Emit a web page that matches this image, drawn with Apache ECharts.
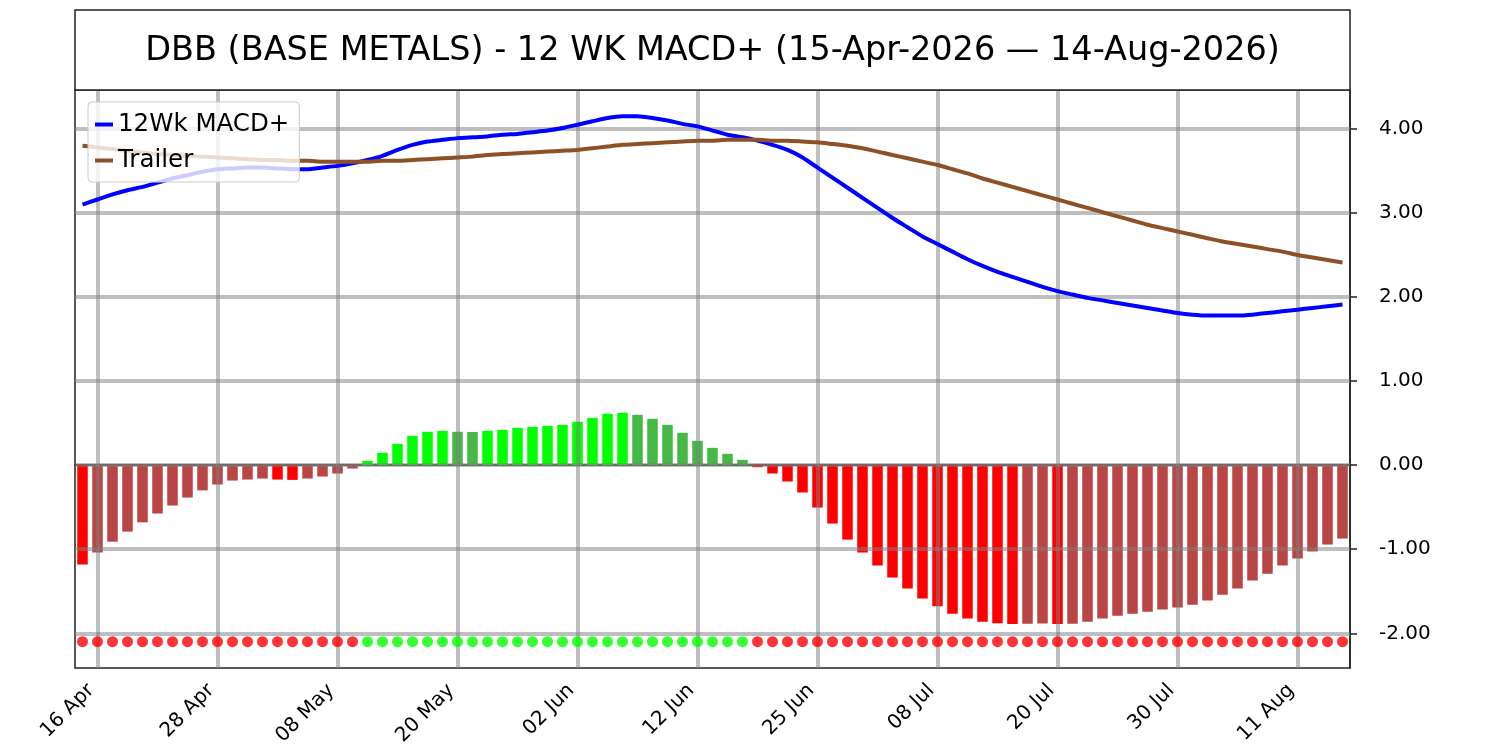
<!DOCTYPE html>
<html>
<head>
<meta charset="utf-8">
<title>DBB 12 WK MACD+</title>
<script src="https://cdn.jsdelivr.net/npm/echarts@6/dist/echarts.min.js"></script>
<style>
  html, body { margin: 0; padding: 0; background: #fff; }
  #main { width: 1500px; height: 750px; }
</style>
</head>
<body>
<div id="main"></div>
<script>
// trading days shown on the x axis
var DATES = [
  '15 Apr','16 Apr','17 Apr','20 Apr','21 Apr','22 Apr','23 Apr','24 Apr','27 Apr','28 Apr','29 Apr','30 Apr',
  '01 May','04 May','05 May','06 May','07 May','08 May','11 May','12 May','13 May','14 May','15 May',
  '18 May','19 May','20 May','21 May','22 May','26 May','27 May','28 May','29 May',
  '01 Jun','02 Jun','03 Jun','04 Jun','05 Jun','08 Jun','09 Jun','10 Jun','11 Jun','12 Jun',
  '15 Jun','16 Jun','17 Jun','18 Jun','22 Jun','23 Jun','24 Jun','25 Jun','26 Jun','29 Jun','30 Jun',
  '01 Jul','02 Jul','06 Jul','07 Jul','08 Jul','09 Jul','10 Jul','13 Jul','14 Jul','15 Jul','16 Jul','17 Jul',
  '20 Jul','21 Jul','22 Jul','23 Jul','24 Jul','27 Jul','28 Jul','29 Jul','30 Jul','31 Jul',
  '03 Aug','04 Aug','05 Aug','06 Aug','07 Aug','10 Aug','11 Aug','12 Aug','13 Aug','14 Aug'
];

var TICK_LABELS = ['16 Apr','28 Apr','08 May','20 May','02 Jun','12 Jun','25 Jun','08 Jul','20 Jul','30 Jul','11 Aug'];
var Y_TICKS = [-2, -1, 0, 1, 2, 3, 4];

var MACD_LINE = [
  3.10,3.16,3.22,3.27,3.31,3.36,3.41,3.45,3.49,3.52,
  3.53,3.54,3.54,3.53,3.52,3.52,3.54,3.56,3.59,3.63,
  3.68,3.75,3.81,3.85,3.87,3.89,3.90,3.91,3.93,3.94,
  3.96,3.98,4.01,4.05,4.09,4.13,4.15,4.15,4.13,4.10,
  4.06,4.03,3.98,3.93,3.90,3.86,3.81,3.75,3.66,3.54,
  3.42,3.30,3.18,3.06,2.94,2.83,2.72,2.63,2.54,2.45,
  2.37,2.30,2.24,2.18,2.12,2.07,2.03,1.99,1.96,1.93,
  1.90,1.87,1.84,1.81,1.79,1.78,1.78,1.78,1.79,1.81,
  1.83,1.85,1.87,1.89,1.91
];

var TRAILER = [
  3.80,3.78,3.76,3.74,3.72,3.70,3.69,3.68,3.67,3.66,
  3.65,3.64,3.63,3.63,3.62,3.62,3.61,3.61,3.61,3.61,
  3.62,3.62,3.63,3.64,3.65,3.66,3.67,3.69,3.70,3.71,
  3.72,3.73,3.74,3.75,3.77,3.79,3.81,3.82,3.83,3.84,
  3.85,3.86,3.86,3.87,3.87,3.87,3.86,3.86,3.85,3.84,
  3.82,3.80,3.77,3.73,3.69,3.65,3.61,3.57,3.52,3.47,
  3.41,3.36,3.31,3.26,3.21,3.16,3.11,3.06,3.01,2.96,
  2.91,2.86,2.82,2.78,2.74,2.70,2.66,2.63,2.60,2.57,
  2.54,2.50,2.47,2.44,2.41
];

var HISTOGRAM = [
  -1.18,-1.04,-0.91,-0.79,-0.68,-0.575,-0.48,-0.385,-0.30,-0.23,
  -0.183,-0.171,-0.159,-0.171,-0.175,-0.159,-0.135,-0.099,-0.04,0.052,
  0.147,0.254,0.349,0.397,0.409,0.397,0.395,0.409,0.42,0.444,
  0.456,0.468,0.48,0.516,0.563,0.611,0.623,0.599,0.552,0.48,
  0.385,0.29,0.206,0.135,0.063,-0.024,-0.099,-0.194,-0.325,-0.504,
  -0.694,-0.885,-1.04,-1.194,-1.337,-1.468,-1.587,-1.679,-1.766,-1.825,
  -1.861,-1.880,-1.888,-1.886,-1.884,-1.889,-1.885,-1.861,-1.825,-1.79,
  -1.766,-1.742,-1.718,-1.694,-1.659,-1.611,-1.54,-1.468,-1.373,-1.29,
  -1.194,-1.111,-1.028,-0.944,-0.873
];

// level of the signal dots row
var DOT_LEVEL = -2.1;

var FONT = 'DejaVu Sans';

// bright colour when the bar moves away from zero, dull when it moves back
function barColor(i) {
  var v = HISTOGRAM[i];
  var away = i === 0 || (v >= 0 ? v > HISTOGRAM[i - 1] : v < HISTOGRAM[i - 1]);
  if (v >= 0) return away ? '#00ff00' : '#45b945';
  return away ? '#ff0000' : '#b94545';
}

var barData = HISTOGRAM.map(function (v, i) {
  return { value: v, itemStyle: { color: barColor(i) } };
});
var dotData = HISTOGRAM.map(function (v) {
  return { value: DOT_LEVEL, itemStyle: { color: v >= 0 ? '#00ff00' : '#ff0000' } };
});

var gridLines = TICK_LABELS.map(function (l) { return { xAxis: l }; })
  .concat(Y_TICKS.map(function (v) { return { yAxis: v }; }));

var isTick = function (idx, value) { return TICK_LABELS.indexOf(value) >= 0; };

var myChart = echarts.init(document.getElementById('main'));

var option = {
  animation: false,
  backgroundColor: '#fff',
  textStyle: { fontFamily: FONT },
  grid: {
    left: 75, right: 150, top: 90, bottom: 82,
    show: true, borderColor: '#222', borderWidth: 1.5, backgroundColor: '#fff'
  },
  graphic: [
    {
      type: 'rect', z: 10,
      shape: { x: 75, y: 10, width: 1275, height: 80 },
      style: { fill: '#fff', stroke: '#222', lineWidth: 1.5 }
    },
    {
      type: 'text', z: 11, x: 712.5, y: 51,
      style: {
        text: 'DBB (BASE METALS) - 12 WK MACD+ (15-Apr-2026 \u2014 14-Aug-2026)',
        fontFamily: FONT, fontSize: 33.5, fill: '#000',
        textAlign: 'center', textVerticalAlign: 'middle'
      }
    }
  ],
  legend: {
    data: ['12Wk MACD+', 'Trailer'],
    orient: 'vertical',
    left: 88, top: 102,
    icon: 'rect', itemWidth: 18, itemHeight: 4, itemGap: 11,
    padding: [10, 10, 9, 7],
    backgroundColor: 'rgba(255,255,255,0.8)',
    borderColor: '#cccccc', borderWidth: 1, borderRadius: 4,
    textStyle: { fontFamily: FONT, fontSize: 24.5, color: '#000' },
    z: 5
  },
  xAxis: {
    type: 'category',
    data: DATES,
    axisLine: { lineStyle: { color: '#222', width: 1.5 } },
    axisTick: { alignWithLabel: true, interval: isTick, length: 7, lineStyle: { color: '#222', width: 1.5 } },
    axisLabel: {
      interval: isTick, rotate: 45, margin: 13, padding: [0, 9, 0, 0],
      fontFamily: FONT, fontSize: 20, color: '#000'
    },
    splitLine: { show: false }
  },
  yAxis: {
    type: 'value',
    position: 'right',
    min: -2.4125, max: 4.4625,
    axisLine: { show: true, lineStyle: { color: '#222', width: 1.5 } },
    axisTick: { show: true, customValues: Y_TICKS, length: 7, lineStyle: { color: '#222', width: 1.5 } },
    axisLabel: {
      customValues: Y_TICKS, margin: 29,
      fontFamily: FONT, fontSize: 20, color: '#000',
      formatter: function (v) { return v.toFixed(2); }
    },
    splitLine: { show: false }
  },
  series: [
    {
      name: 'Histogram',
      type: 'bar',
      z: 1,
      barWidth: '70%',
      data: barData,
      markLine: {
        silent: true, z: 2,
        symbol: 'none',
        label: { show: false },
        lineStyle: { color: 'rgba(128,128,128,0.5)', width: 4, type: 'solid' },
        emphasis: { disabled: true },
        data: gridLines
      }
    },
    {
      name: 'Signal',
      type: 'scatter',
      z: 3,
      symbolSize: 11,
      data: dotData
    },
    {
      name: '12Wk MACD+',
      type: 'line',
      z: 3,
      showSymbol: false,
      smooth: 0.15,
      color: '#0000ff',
      lineStyle: { color: '#0000ff', width: 4 },
      data: MACD_LINE
    },
    {
      name: 'Trailer',
      type: 'line',
      z: 3,
      showSymbol: false,
      smooth: 0.15,
      color: '#8c5127',
      lineStyle: { color: '#8c5127', width: 4 },
      data: TRAILER
    }
  ]
};

myChart.setOption(option);
</script>
</body>
</html>
